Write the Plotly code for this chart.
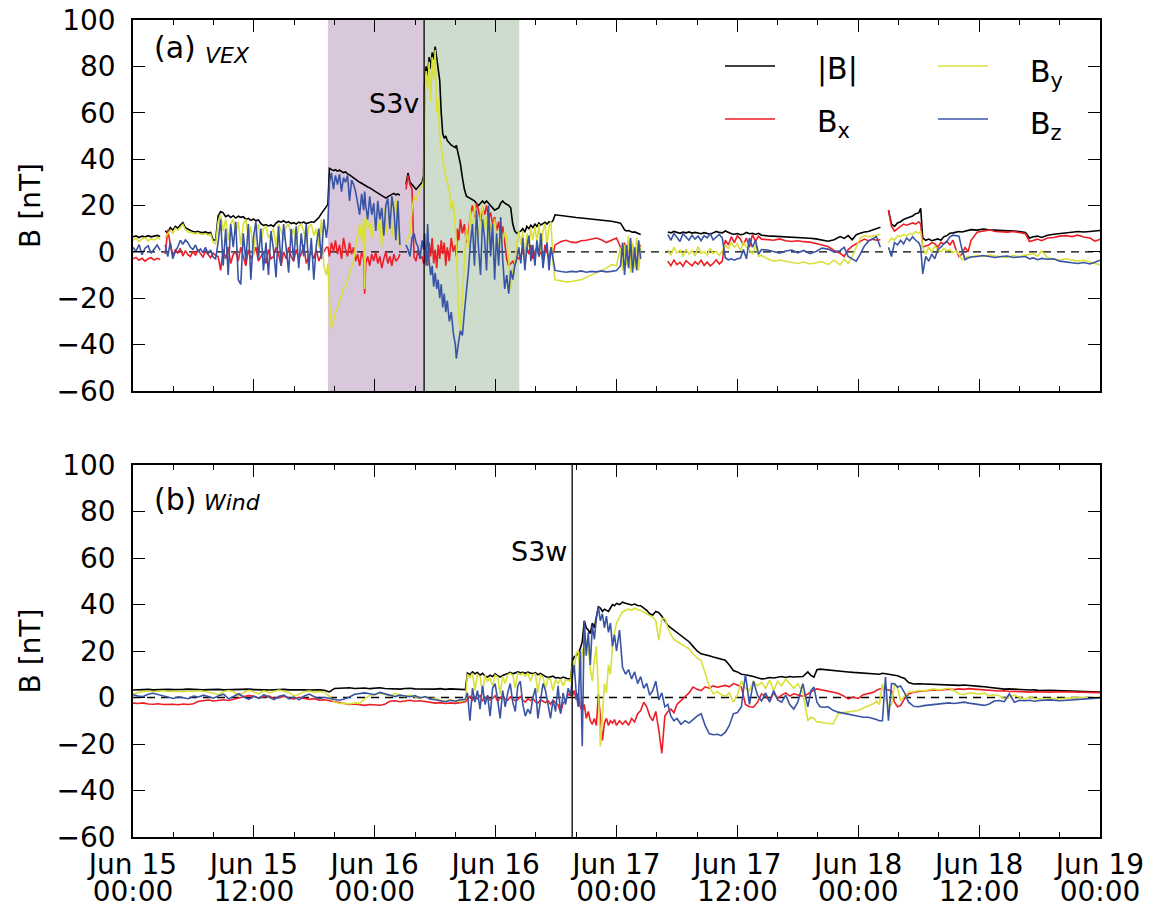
import pandas as pd
import plotly.graph_objects as go

# ---------------- Panel (a): VEX, time in hours after Jun 15 00:00 ----------------
vex_t = [0.0, 0.3, 0.6, 0.9, 1.2, 1.5, 1.8, 2.1, 2.4, 2.7,
         2.95,
         3.2, 3.45, 3.7, 3.95, 4.2, 4.45, 4.7, 4.95, 5.2, 5.45, 5.7, 5.95, 6.2, 6.45, 6.7, 6.95, 7.2, 7.45, 7.7, 7.95, 8.2,
         8.45, 8.7, 8.95, 9.2, 9.45, 9.7, 9.95, 10.2, 10.45, 10.7, 10.95, 11.2, 11.45, 11.7, 11.95, 12.2, 12.45, 12.7, 12.95, 13.2,
         13.45, 13.7, 13.95, 14.2, 14.45, 14.7, 14.95, 15.2, 15.45, 15.7, 15.95, 16.2, 16.45, 16.7, 16.95, 17.2, 17.45, 17.7, 17.95, 18.2,
         18.45, 18.7, 18.95, 19.2,
         19.35, 19.5, 19.7, 19.9, 20.1, 20.3, 20.5, 20.7, 20.9, 21.1, 21.3, 21.5, 21.7, 21.9, 22.1, 22.3, 22.5, 22.7, 22.9, 23.0,
         23.1, 23.3, 23.5, 23.7, 23.9, 24.1, 24.3, 24.5, 24.7, 24.9, 25.1, 25.3, 25.5, 25.7, 25.9, 26.1, 26.3, 26.5,
         26.8,
         27.1, 27.3, 27.5, 27.7, 27.9, 28.1, 28.3, 28.5, 28.7, 28.85,
         28.95, 29.1, 29.25, 29.4, 29.55, 29.7, 29.85, 30.0, 30.15, 30.3, 30.45, 30.6, 30.75, 30.9, 31.05, 31.2, 31.4, 31.6, 31.8, 32.0,
         32.1, 32.2, 32.35, 32.5, 32.7, 32.9, 33.1, 33.3, 33.5, 33.7, 33.9, 34.1, 34.3, 34.5, 34.7, 34.9, 35.1, 35.3, 35.5, 35.7,
         35.9, 36.1, 36.3, 36.5, 36.7, 36.9, 37.1, 37.3, 37.5, 37.7, 37.9, 38.1, 38.3,
         38.5, 38.7, 38.9, 39.1, 39.3, 39.5, 39.7, 39.9, 40.1, 40.3, 40.5, 40.7, 40.9, 41.1, 41.3, 41.5, 41.7, 41.9,
         42.5, 43.0, 43.5, 44.0, 44.5, 45.0, 45.5, 46.0, 46.5, 47.0, 47.5, 48.0,
         48.4, 48.6, 48.8, 49.0, 49.2, 49.4, 49.6, 49.8, 50.0, 50.2, 50.4,
         51.8,
         53.1, 53.4, 53.7, 54.0, 54.3, 54.6, 54.9, 55.2, 55.5, 55.8, 56.1, 56.4, 56.7, 57.0, 57.3, 57.6, 57.9, 58.2, 58.5,
         58.8, 59.1, 59.4, 59.7, 60.0, 60.3, 60.6, 60.9, 61.2, 61.5, 61.8, 62.1, 62.4,
         63.0, 63.6, 64.2, 64.8, 65.4, 66.0, 66.6, 67.2, 67.8, 68.4, 69.0, 69.6,
         70.2, 70.6, 71.0, 71.4, 71.8, 72.2, 72.6, 73.0, 73.4, 73.8, 74.2,
         74.6,
         75.0, 75.3, 75.6, 75.9, 76.2, 76.5, 76.8, 77.1, 77.4, 77.7, 78.0, 78.2, 78.4, 78.7, 79.0, 79.3, 79.6, 79.9, 80.2, 80.5,
         80.8, 81.1, 81.4, 81.7, 82.0, 82.3, 82.6, 82.9, 83.2, 83.8, 84.4, 85.0, 85.6, 86.2, 86.8, 87.4, 88.0, 88.6, 89.0, 89.4,
         89.8, 90.2, 90.8, 91.4, 92.0, 92.6, 93.2, 93.8, 94.4, 95.0, 95.5, 96.0]

vex_B = [6.5, 6.9, 6.2, 6.8, 6.4, 7.0, 6.5, 6.8, 7.1, 6.6,
         None,
         9.0, 8.2, 10.5, 9.4, 11.0, 10.2, 11.6, 12.6, 10.4, 9.6, 9.2, 8.8, 8.6, 8.9, 8.4, 8.3, 8.6, 8.1, 8.4, 5.2, 5.0,
         15.5, 17.4, 16.8, 15.2, 15.8, 14.8, 15.6, 14.6, 15.4, 14.9, 15.2, 14.0, 14.4, 13.6, 14.2, 13.4, 13.8, 12.2, 11.4, 11.8,
         11.2, 11.6, 11.0, 12.4, 13.2, 12.8, 13.4, 12.6, 13.0, 12.2, 12.6, 12.0, 12.8, 12.4, 12.9, 12.2, 12.6, 13.0, 12.7, 13.6,
         14.8, 16.5, 18.2, 19.5,
         20.5, 36, 35.5, 35, 35.4, 34.8, 35.2, 34.6, 34.2, 34.5, 33.6, 33.2, 32.5, 32.0, 31.2, 30.6, 30.0, 29.6, 29.0, 28.8,
         28.6, 28.0, 27.6, 27.0, 26.6, 26.0, 25.4, 24.8, 24.2, 23.6, 23.2, 23.8, 24.4, 24.8, 25.2, 24.6, 25.0, 24.4,
         None,
         29, 34, 30, 29, 28, 27, 28, 29, 30, 33,
         72, 80, 76, 84, 79, 86, 83, 88.5, 84, 80, 74, 60, 51, 49, 50, 48, 47, 46, 45.5, 45,
         46, 44, 42, 38, 32, 27, 24, 23.5, 23, 22.5, 22, 21, 20, 21, 22, 21, 22, 21, 20, 19,
         18, 18.5, 19, 21, 22, 21, 20.5, 20, 19, 12, 9, 8, 8.5,
         9, 10, 8.5, 11, 10, 11.5, 10.5, 12, 11, 12.4, 11.6, 12.2, 12.8, 12, 13, 12.6, 13.5, 16,
         15.6, 15.4, 15, 14.8, 14.6, 14.4, 14.2, 14, 13.6, 13.4, 13.2, 12.8,
         12.4, 11, 9.5, 9, 9.2, 8.8, 8.5, 8.6, 8.2, 7.8, 7.5,
         None,
         8.6, 8.2, 8.8, 8.4, 8.0, 8.5, 8.2, 8.6, 8.1, 8.4, 8.0, 7.8, 8.3, 8.0, 7.6, 8.2, 8.8, 8.4, 8.2,
         9.0, 8.4, 7.8, 7.6, 7.9, 7.4, 7.6, 8.4, 7.8, 8.0, 7.5, 8.0, 7.2,
         6.9, 6.8, 6.6, 6.4, 6.5, 6.3, 6.2, 5.9, 5.6, 5.0, 4.6, 5.2,
         6.6, 5.8, 7.0, 5.2, 7.4, 8.0, 8.6, 8.8, 9.5, 10.2, 10.6,
         None,
         18, 12, 11, 12.5, 13, 14, 14.5, 15, 15.5, 16.5, 16.8, 18.8, 6, 5, 5.5, 4.8, 5.2, 5.6, 5, 6.5,
         7, 8, 8.2, 8.6, 8.8, 8.6, 9, 9.3, 9.6, 9.4, 9.8, 9.5, 9.4, 9.2, 9.0, 9.2, 8.8, 8.4, 6, 6.5,
         6.8, 6.2, 7.2, 7.6, 7.8, 8.2, 8.5, 8.8, 8.6, 8.8, 9, 9.2]

vex_Bx = [-3.0, -2.4, -3.6, -2.8, -4.0, -3.0, -2.5, -3.5, -2.8, -3.3,
          None,
          -1.0, 9.5, 3.5, -1.5, 0.8, -0.5, 1.5, -1.8, 0.5, -1.2, -2.0, 0.2, -1.5, 1.0, -0.8, -2.2, 0.3, -1.0, -2.5, -0.5, -1.5,
          -2, -8, 1, -3, 2, -5, -1, 0, -4, 2, -2, -6, 1, -3, -1, 2, -4, -2, 0, -5,
          1, -3, -2, 2, -1, -6, 0, -3, 2, -2, -4, 1, -3, -1, 3, -5, -2, 0, -3, 1,
          -4, -1, 0, 2,
          2, -2, 4, 0, 5, -1, 3, -3, 6, 1, -2, 4, -1, 2, -4, -1, -6, 0, -3, -18,
          -5, -2, -6, -1, -4, 0, -5, -2, -7, -3, 0, -5, -2, -6, -1, -4, -3, -1,
          None,
          27, 33, 29, 27, -2, -4, 1, -3, -2, -5,
          -4, 2, -6, 4, -2, 6, -5, 1, -7, 3, -3, 5, -1, 4, -6, 2, -4, 6, 0, 3,
          -2, 10, 5, 14, 8, 12, 4, 9, 16, 20, 15, 21, 18, 13, 19, 16, 20, 14, 17, 12,
          15, 9, 13, 6, 11, 3, -3, -6, -5, -4, -6, -2, -3,
          -2, 1, -4, 2, -1, 3, -3, 0, 2, -2, 1, -4, 3, 0, -3, 2, -1, 3,
          4.5, 5, 4.2, 4, 4.8, 5, 5.5, 6, 5.2, 4, 5, 6,
          2, -2, 4, -3, 5, -4, 3, -4, -5, 2, 3,
          None,
          -4, -6, -3.5, -5.5, -4.5, -6.2, -3.8, -5, -6, -4.2, -5.4, -3.6, -5.8, -4.4, -6, -5, -3.4, -5.2, -4,
          5, 3, 6.5, 4, 7, 5.5, 3, 6, 2, 7.5, 4.5, 6.8, 5.5,
          5.2, 5.0, 5.6, 4.8, 4.5, 4.8, 4.4, 4.2, 3.6, 2.8, 2.3, 0.6,
          -0.6, -2, 1, 2.5, 3.5, 4.5, 5.5, 4.8, 5.5, 5.0, 5.2,
          None,
          18, 11, 9, 10, 11, 12, 11.5, 12, 12.5, 12, 13, 12, 2, 2.5, 3, 4, 3.5, 2, 4, 3.5,
          4.5, 3, 5, 1, -2, -1, 2, 0, 5, 8.5, 9, 9.5, 8.8, 8.6, 8.5, 8.8, 8.2, 7.8, 4.5, 5,
          5.5, 4.8, 6, 6.2, 6.8, 7, 6.6, 7.2, 6.4, 6, 4.6, 5.4]

vex_By = [5.0, 5.9, 4.4, 5.6, 6.1, 4.7, 5.7, 5.1, 6.2, 5.3,
          None,
          6.2, 7.5, 9.2, 8.0, 10.2, 9.4, 10.8, 11.8, 9.5, 8.6, 8.4, 8.0, 7.8, 8.2, 7.6, 7.5, 7.9, 7.2, 7.6, 4.2, 3.5,
          13, 16, 9, 14, 5, 12, 14, 8, 13, 3, 12, 14, 6, 11, -2, 9, 12, 4, 10, 11,
          6, 8, 10, 2, 12, 9, 5, 11, 12, 7, 10, 3, 11, 12, 9, 4, 11, 12, 7, 10,
          2, 14, -6, -10,
          -5, -22, -33, -30, -26, -24, -21, -18, -16, -15, -12, -10, -7, -4, 2, 8, 12, 4, 14, -16,
          16, 10, 13, 6, 12, 17, 9, 14, 2, 19, 8, 13, 21, 6, 15, 23, 10, 2,
          None,
          4, 6, 8, 18, 24, 22, 25, 27, 28, 31,
          66, 78, 70, 82, 65, 84, 74, 87, 60, 66, 50, 44, 40, 36, 32, 30, 26, 18, 22, 12,
          4, -10, -28, -34, -20, -5, 10, 2, 18, 8, 20, 14, 6, 16, 20, 10, 15, 4, 12, 8,
          14, 6, 2, 10, 4, 9, 6, -4, -16, -8, -5, 4, 9,
          3, 9, -3, 8, 2, 10, 5, 11, 4, 12, 0, 9, 12, 3, 11, 13, -5, -12,
          -12.5, -13, -12.8, -12.4, -12, -11, -10, -9, -8, -7, -5.5, -6,
          2, -8, 3, -6, 7, -9, 4, -7, 6, -8, 2,
          None,
          1, -1.5, 2, -0.5, 0.8, -2, 1.2, -1, 0.5, -1.8, 2.3, -0.6, 0.2, -1.4, 1.6, -0.8, 0.3, -1.6, 0.5,
          3, 1.5, 4, 2, 3.5, 0.5, 4.2, 2, 1, -1, 3, -2, -1.5,
          -3, -4, -3.5, -4.2, -4.6, -5, -4.4, -5.2, -4.8, -4.2, -5.5, -3.6,
          -5.6, -3.2, -5, -2, 2, 6, 7, 6.5, 6.8, 7.2, 7.5,
          None,
          4, 6, 5, 7, 6.6, 7.5, 6.8, 8, 7.5, 8.8, 8, 9, 2, -1, 2, 0, 2.5, 1, 0, 1.5,
          0.5, 1, -0.5, 0.5, -1, -3.4, -2.5, -1.8, -2.2, -1.5, -2, -1.4, -1.8, -2, -2.4, -1.6, -2, -1.4, -1.2, -0.8,
          -2, 0.5, -2.6, -3.2, -3.6, -3, -3.4, -4, -3.6, -4.5, -5, -5.6]

vex_Bz = [2.0, 0.2, 3.2, -1.2, 1.6, 2.6, -0.6, 1.2, 3.0, 0.6,
          None,
          3.0, -2.0, 4.0, -3.0, 0.2, 2.2, 5.0, 3.2, 5.2, 4.0, 2.0, 1.0, 3.0, 0.2, 1.2, -0.4, 2.0, -1.0, 0.8, -2.2, -3.0,
          4, 14, -6, 10, -10, 12, 2, 13, -12, -14, 8, -4, 12, -12, 6, 13, -3, 10, -8, 4,
          -10, 9, 1, -11, 11, -6, 12, 2, -9, 10, -4, 11, -7, 8, -2, 12, -8, 6, -12, 3,
          10, -3, 14, 6,
          12, 30, 34, 27, 33, 29, 33.5, 26, 32, 30, 33, 22, 31, 29, 26, 21, 16, 25, 18, 26,
          20, 14, 24, 16, 21, 9, 22, 14, 19, 7, 20, 23, 10, 24, 18, 5, 22, 3,
          None,
          3, 1, -2, 6, 8, 4, 2, -3, 5, 1,
          8, -6, 12, -4, -10, -6, -15, -9, -16, -12, -20, -14, -24, -18, -26, -21, -30, -26, -35, -40,
          -46, -42, -38, -34, -36, -26, -18, -8, 4, 12, -6, 18, 2, -10, 14, 6, -8, 20, -2, 12,
          -12, 8, -6, 15, -3, -16, -10, -18, -8, -12, -6, -3, 2,
          -5, 6, -8, 2, 7, -4, 3, -6, 5, -2, 8, -7, 0, 4, -8, 2, -3, -8,
          -8.5, -8.8, -8.4, -8.6, -8.2, -8.8, -8.4, -8.6, -8.2, -8.6, -8.4, -8,
          -6, 4, -10, 3, -7, 6, -9, 2, -8, 5, -3,
          None,
          7.5, 5, 8, 6, 4.5, 7.8, 6.5, 5, 7.2, 5.5, 6.8, 4.8, 7, 6, 7.8, 5.2, 6.4, 7.5, 6,
          -2.5, -3.4, -3, -3.6, -3, -2.8, 1, -3, 6, 2, 5, -1, 1,
          0.8, 0.2, -0.6, 0.4, 0.8, -0.4, 0.6, -0.8, 0.2, 1.6, 1.2, 0,
          0.5, 2, -2, -3, -4, -1, 2.5, 4.5, 5.5, 6.6, 2,
          None,
          2, -2, 4, 3, 5, 3.5, 6, 4.8, 6.5, 5, 4, 2, -9.5, -2, -4, -1, -3, 1, 2, 3.5,
          4.5, 6.5, 7.2, 7, 6.8, 1, -3.4, -2.6, -2.2, -2, -1.6, -2, -2.4, -2, -1.8, -2.4, -2.2, -2, -3, -2.6,
          -3.4, -2.8, -3.2, -3, -4, -4.4, -4.8, -5, -4.6, -5.2, -4.5, -3.6]

# ---------------- Panel (b): Wind ----------------
wind_t = [0.0, 0.5, 1.0, 1.5, 2.0, 2.5, 3.0, 3.5, 4.0, 4.5, 5.0, 5.5, 6.0, 6.5, 7.0, 7.5, 8.0, 8.5, 9.0, 9.5,
          10.0, 10.5, 11.0, 11.5, 12.0, 12.5, 13.0, 13.5, 14.0, 14.5, 15.0, 15.5, 16.0, 16.5, 17.0, 17.5, 18.0, 18.5, 19.0, 19.5,
          20.0, 20.5, 21.0, 21.5, 22.0, 22.5, 23.0, 23.5, 24.0, 24.5, 25.0, 25.5, 26.0, 26.5, 27.0, 27.5, 28.0, 28.5, 29.0, 29.5,
          30.0, 30.5, 31.0, 31.5, 32.0, 32.5, 33.0,
          33.2, 33.45, 33.7, 33.95, 34.2, 34.45, 34.7, 34.95, 35.2, 35.45, 35.7, 35.95, 36.2, 36.45, 36.7, 36.95, 37.2, 37.45, 37.7, 37.95,
          38.2, 38.45, 38.7, 38.95, 39.2, 39.45, 39.7, 39.95, 40.2, 40.45, 40.7, 40.95, 41.2, 41.45, 41.7, 41.95, 42.2, 42.45, 42.7, 42.95,
          43.2, 43.45,
          43.65, 43.8, 44.0, 44.2, 44.4, 44.6, 44.8, 45.0, 45.2, 45.4, 45.6, 45.8, 46.0, 46.2, 46.4, 46.6, 46.8, 47.0, 47.2, 47.4,
          47.6, 47.8, 48.0, 48.3, 48.6, 48.9, 49.2, 49.5, 49.8, 50.1, 50.4, 50.7, 51.0, 51.3, 51.6, 51.9, 52.2, 52.5, 52.8, 53.1,
          53.4, 53.7, 54.0, 54.4, 54.8, 55.2, 55.6, 56.0, 56.4, 56.8, 57.2, 57.6, 58.0, 58.4, 58.8, 59.2, 59.6, 60.0, 60.4, 60.8,
          61.2, 61.6, 62.0, 62.4, 62.8, 63.2, 63.6, 64.0, 64.4, 64.8, 65.2, 65.6, 66.0,
          66.5, 67.0, 67.3, 67.6, 67.9, 68.2, 68.6, 69.0, 69.5, 70.0, 70.5, 71.0, 71.5, 72.0, 72.5, 73.0, 73.5, 73.8, 74.1, 74.4,
          74.7, 75.0, 75.3, 75.6, 75.9, 76.2, 76.6, 77.0, 77.5, 78.0, 78.5, 79.0, 79.5, 80.0, 80.5, 81.0, 81.5, 82.0, 82.5, 83.0,
          83.5, 84.0, 84.5, 85.0, 85.5, 86.0, 86.5, 87.0, 87.5, 88.0, 88.5, 89.0, 89.5, 90.0, 91.0, 92.0, 93.0, 94.0, 95.0, 96.0]

wind_B = [3.2, 3.4, 3.3, 3.5, 3.3, 3.4, 3.6, 3.5, 3.4, 3.3, 3.5, 3.6, 3.4, 3.5, 3.3, 3.4, 3.6, 3.5, 3.3, 3.4,
          3.5, 3.3, 3.4, 3.6, 3.4, 3.5, 3.3, 3.2, 3.4, 3.6, 3.5, 3.3, 3.4, 3.5, 3.3, 3.2, 3.4, 3.3, 3.1, 2.4,
          3.9, 4.1, 4.0, 4.2, 3.9, 4.0, 4.1, 3.8, 4.0, 4.2, 3.9, 3.7, 3.8, 3.6, 3.9, 4.0, 3.7, 3.6, 3.8, 3.7,
          3.6, 3.8, 3.5, 3.7, 3.5, 3.6, 3.4,
          10.5, 9.8, 11, 10.2, 10.8, 9.6, 10.4, 9.2, 8.8, 9.6, 9.0, 10.2, 9.4, 8.8, 9.5, 9.9, 10.4, 10.8, 10.2, 10.5,
          11.0, 10.6, 10.8, 10.4, 10.9, 10.5, 10.2, 10.7, 9.8, 10.4, 9.6, 9.0, 8.6, 8.8, 9.2, 8.4, 8.6, 8.2, 8.8, 8.4,
          8.0, 8.2,
          16, 17.5, 18, 19, 21, 24, 33, 30, 29, 27.5, 32, 30, 35, 39, 38.5, 37, 38, 37.5, 37, 38.5,
          40, 39.5, 40.5, 40, 41, 40.5, 40, 39.8, 40.2, 39.6, 39.5, 38.5, 37.5, 36, 35.5, 37, 36.5, 35, 33, 31,
          30, 29, 28, 26.5, 25, 24, 22, 20, 18.8, 18.5, 18, 17.4, 17, 16.5, 16, 14, 11.6, 11, 10, 9.8,
          9.5, 9, 8.5, 8, 8.2, 8.6, 8.4, 8.8, 9, 8.6, 9, 8.8, 8.9,
          9, 11, 9.5, 8.8, 12, 12.2, 12, 11.8, 11.5, 11.2, 11.2, 11, 10.8, 10.6, 10.5, 10.2, 10.3, 10.2, 10, 10.4,
          10.2, 10.3, 9.8, 9.6, 9.4, 8.8, 8.2, 6.4, 5.8, 5.9, 5.8, 5.6, 5.7, 5.5, 5.6, 5.4, 5.3, 5.2, 5.4, 5.1,
          5.0, 4.8, 4.6, 4.3, 4.0, 3.8, 3.6, 3.7, 3.5, 3.6, 3.4, 3.2, 3.3, 3.0, 3.1, 3.0, 2.8, 2.7, 2.5, 2.3]

wind_Bx = [-2.4, -2.6, -2.3, -2.8, -2.9, -2.7, -3.0, -2.8, -2.9, -3.1, -2.8, -3.0, -2.7, -1.6, -1.3, -1.1, -1.5, -1.2, -1.0, -1.3,
           -0.6, -0.2, 0.4, 0.8, 0.5, -0.2, 0.3, 0.6, -0.4, 0.2, 0.5, -0.3, -0.6, 0.1, -0.2, -0.8, -0.5, -1.2, -1.0, -1.4,
           -1.8, -2.2, -2.6, -3.0, -2.8, -3.2, -3.4, -3.0, -3.1, -3.3, -2.9, -1.6, -1.4, -1.8, -1.5, -1.2, -1.6, -1.4, -1.7, -2.2,
           -2.4, -2.2, -2.6, -2.3, -2.5, -2.2, -1.8,
           -0.8, 0.5, -1.2, 0.2, -0.6, 1.0, -1.4, -0.3, 0.6, -1.0, -0.4, 0.8, -1.6, -0.2, 0.4, -0.8, -1.2, 0.3, -0.6, -1.4,
           -0.9, 0.4, -1.1, -2.0, -0.5, -1.3, -0.4, -1.8, -2.4, -1.0, -1.6, -2.2, -1.4, -2.8, -1.2, -2.0, -3.2, -6.5, -2.4, -1.2,
           1.5, 0.8,
           1, 3, -1, 2, -4, -5.6, -3, -9, -6, -10, -11.5, -9, -12, 1.6, -8, -18.5, -11, -9, -12, -10,
           -11, -9.5, -12, -10, -11.5, -10, -12, -9, -10.5, -7, -5.6, -2, -4, -8, -10, -6, -14, -24, -8, -6,
           -5, -6.5, -3, -1.3, 0, 2, 4.5, 3.5, 3, 4.6, 4, 5, 4.4, 4.8, 5.2, 4.6, 6, 5.4, 4.5, -3,
           -4, -4.2, -2, 1.6, 0.5, -1.3, 2, -0.5, 1, 2, 0.6, 1.6, 1.2,
           0.5, 1.5, 2.5, 3.2, 3.7, 3.4, 3.0, 2.5, 2.2, 1.8, 0.8, -0.6, 0.2, -0.4, 1.2, 1.6, 2.2, 3.0, 3.7, 4.0,
           3.6, 3.2, 2.8, -2, -4, -3.5, -0.5, 1.5, 2.3, 2.6, 2.8, 3.0, 3.2, 3.0, 3.3, 3.6, 3.4, 3.7, 3.5, 3.8,
           3.6, 3.4, 3.2, 3.0, 3.1, 2.8, 2.9, 2.6, 2.7, 2.5, 2.6, 2.3, 2.5, 2.4, 2.3, 2.5, 2.4, 2.3, 2.2, 2.1]

wind_By = [1.4, 2.2, 2.6, 2.8, 2.5, 2.7, 2.9, 2.6, 2.8, 2.7, 2.5, 2.8, 2.6, 2.9, 2.7, 2.4, 1.8, 1.2, 2.6, 3.0,
           2.5, 0.8, 2.2, 3.1, 2.4, 1.6, 2.9, 2.0, 2.6, 3.2, 2.7, 2.2, 0.6, 1.4, 2.5, 2.8, 2.2, 2.6, 2.4, 0.5,
           -2.0, -2.6, -2.4, -2.8, -2.3, -2.5, -0.6, 0.8, 1.5, 2.0, 1.4, 0.6, 1.8, 1.2, 0.4, 1.0, 0.2, -0.4, 0.3, -0.6,
           -0.2, -1.2, -1.6, -1.0, -1.4, -1.8, -0.8,
           10, 8.5, 10.5, 3, 9.8, 9, 2.5, 9.5, 7, 8.4, 5, 9.6, 8.8, 1.5, 9, 6, 9.8, 10.4, 9.6, 4,
           10.5, 9.8, 10.4, 9.2, 10.6, 7, 9.8, 10.2, 2, 9.8, 8.8, 4, 8.2, 7.6, 3, 7.8, 6, 8, 5, 7.6,
           7.4, 6.8,
           16, 12, 19, 20, 8, 21, 18, 25, 22, 12, 7, 16, 22, 3, -21, -8, 6, 2, 14, 10,
           22, 28, 32, 34.6, 36.8, 37.5, 38, 37.5, 38.5, 37.8, 37.5, 36.8, 36, 35, 34.5, 33, 24.6, 34, 34, 30,
           27, 25, 24, 23, 22, 21, 18.8, 17, 16, 10, 5, 1.6, 2.5, 1.2, 0.5, 2, -2, 1, 7, 4,
           3, 7, 5, 6.5, 4, 7.5, 3, 7, 5, 8, 6, 4, 6,
           2, -10, -8.5, -9, -10.5, -10.6, -11, -11.2, -11.4, -7, -6.5, -6.2, -5.8, -5.6, -4.5, -3.5, -2.7, -1.5, -3, 5.9,
           0, -4, -3, 6, 4, -1.3, 0.5, 2.3, 2.5, 3, 2.8, 3.4, 3.7, 3.2, 3.5, 4, 3, 1.6, 1.2, 2,
           1.8, 1.4, 2, 0.6, 1.2, 0.8, -0.5, 0.4, 1.0, 0.1, -0.8, 0.3, -0.4, -0.6, -0.4, -0.6, -0.2, 0.1, -0.1, 0.2]

wind_Bz = [1.2, 0.6, 0.4, 1.4, 1.8, 1.2, 0.8, 0.2, -0.4, 0.3, -0.2, -0.5, 0.6, 0.2, 1.0, 0.4, -0.3, 0.8, 1.4, -0.6,
           0.4, 1.6, 0.2, -0.8, 0.6, -0.4, 1.2, 0.3, -0.9, 0.5, 1.0, -0.6, 0.2, -1.0, 0.7, 1.5, 0.3, -0.5, 0.1, -0.4,
           -0.8, -1.2, -0.6, 0.2, 1.4, 1.8, 2.0, 1.6, 1.2, 2.2, 1.5, 0.8, 0.4, 1.0, 0.6, 0.3, 0.8, -0.2, 0.4, -0.6,
           -1.0, -1.4, -1.8, -1.2, -1.6, -1.0, -0.8,
           2, -10, 4, -2, 3, -5, 5, -3, 1, -8, 4, 6, -1, -9, 3, -4, 2, 6, -2, -6,
           5, 7, -3, -8, -5, -7, 0, 4, -9, -2, 6, 3, -4, -9, -1, -6, 5, -7, 2, -3,
           4, 1,
           10, 14, 2, -4, 20, -21, 33, 18, 28, 14, 31, 25, 34, 39, 33, 36, 30, 35, 28, 32,
           22, 27, 20, 29, 13, 10, 12, 8, 11, 6, 9, 4, 6, 1, 3, 7, -1, 2, -4, -3,
           -8, -10, -9, -11.5, -10, -11, -9.5, -8, -7, -12, -15.5, -16, -15.8, -16.4, -15, -12, -7, -6.5, -4, 10,
           -3, 7, 1, -1.5, 2, -2, 3, -1, -2, 1, -3, -5, -2,
           5.9, -4, 3, 4.5, -2, -4, -4.2, -4, -5.5, -6.3, -6.8, -7.2, -7.6, -8, -8.5, -8.5, -9, -9.5, -10, -10,
           8.8, -10, 6, 5.9, 4.5, 5, 2, -2, -3.8, -4, -3.5, -3.2, -3, -2.7, -2.5, -2.3, -2.6, -2.2, -2, -2.4,
           -2.8, -3.2, -3.4, -2.8, -1.5, -1.3, -1.8, 1.6, -2, -1.2, -1.4, -1.2, -1.6, -1.3, -1.0, -1.4, -1.2, -0.8, -0.5, -0.2]

# event markers / intervals (hours after Jun 15 00:00)
sheath_start_h = 19.35
s3v_h = 28.9
mc_end_h = 38.35
s3w_h = 43.6

tick_hours = [0, 12, 24, 36, 48, 60, 72, 84, 96]
tick_day_text = ["Jun 15", "Jun 15", "Jun 16", "Jun 16", "Jun 17", "Jun 17", "Jun 18", "Jun 18", "Jun 19"]
tick_time_text = ["00:00", "12:00", "00:00", "12:00", "00:00", "12:00", "00:00", "12:00", "00:00"]
y_ticks = [-60, -40, -20, 0, 20, 40, 60, 80, 100]

names = ["|B|", "B<sub>x</sub>", "B<sub>y</sub>", "B<sub>z</sub>"]
colors = ["#000000", "#ec1f26", "#d9e03a", "#3a54a5"]

for arr in (vex_B, vex_Bx, vex_By, vex_Bz):
    assert len(arr) == len(vex_t), (len(arr), len(vex_t))
for arr in (wind_B, wind_Bx, wind_By, wind_Bz):
    assert len(arr) == len(wind_t), (len(arr), len(wind_t))

base = pd.Timestamp("2011-06-15 00:00")


def to_time(hours):
    return [base + pd.Timedelta(hours=h) for h in hours]


def at(h):
    return base + pd.Timedelta(hours=h)


vx = to_time(vex_t)
wx = to_time(wind_t)

fig = go.Figure()
for name, col, ys in zip(names, colors, [vex_B, vex_Bx, vex_By, vex_Bz]):
    fig.add_trace(go.Scatter(x=vx, y=ys, mode="lines", name=name, line=dict(color=col, width=1.6),
                             xaxis="x", yaxis="y", showlegend=False))
for name, col, ys in zip(names, colors, [wind_B, wind_Bx, wind_By, wind_Bz]):
    fig.add_trace(go.Scatter(x=wx, y=ys, mode="lines", name=name, line=dict(color=col, width=1.6),
                             xaxis="x2", yaxis="y2", showlegend=False))
# carrier for the second row of date labels (no visible marks)
fig.add_trace(go.Scatter(x=[], y=[], mode="lines", xaxis="x3", yaxis="y2", showlegend=False, hoverinfo="skip"))

FONT = "DejaVu Sans"
fs = 28
tick_times = to_time(tick_hours)
xr = [base, at(96)]

common_x = dict(type="date", range=xr, tickmode="array", tickvals=tick_times, ticktext=tick_day_text,
                ticks="inside", ticklen=12, tickwidth=1.3, tickcolor="black",
                showline=True, linecolor="black", linewidth=1.5, mirror="ticks",
                showgrid=False, zeroline=False, automargin=False, ticklabeloverflow="allow",
                minor=dict(ticks="inside", ticklen=5, tickwidth=1.2, tickcolor="black",
                           dtick=4 * 3600 * 1000, tick0=base, showgrid=False),
                tickfont=dict(family=FONT, size=fs, color="black"))
common_y = dict(range=[-60, 100], tickmode="array", tickvals=y_ticks,
                ticks="inside", ticklen=12, tickwidth=1.3, tickcolor="black",
                showline=True, linecolor="black", linewidth=1.5, mirror="ticks",
                showgrid=False, zeroline=False, ticklabelstandoff=10, automargin=False,
                ticklabeloverflow="allow",
                tickfont=dict(family=FONT, size=fs, color="black"),
                title=dict(text="B [nT]", font=dict(family=FONT, size=fs, color="black"), standoff=8))

# page body has an 8px default margin; margins compensate so the plot box lands at x 133..1100, y 20..837
fig.update_layout(
    width=1156, height=911, autosize=False,
    margin=dict(l=125, r=64, t=12, b=82),
    paper_bgcolor="white", plot_bgcolor="white",
    font=dict(family=FONT, size=fs, color="black"),
    xaxis=dict(common_x, domain=[0, 1], anchor="y", showticklabels=False, matches="x2"),
    yaxis=dict(common_y, domain=[0.5459, 1], anchor="x"),
    xaxis2=dict(common_x, domain=[0, 1], anchor="y2", showticklabels=True, ticklabelstandoff=2),
    xaxis3=dict(type="date", range=xr, overlaying="x2", anchor="y2", side="bottom",
                tickmode="array", tickvals=tick_times, ticktext=tick_time_text,
                ticks="", showline=False, showgrid=False, zeroline=False, automargin=False,
                ticklabeloverflow="allow", ticklabelstandoff=35,
                tickfont=dict(family=FONT, size=fs, color="black")),
    yaxis2=dict(common_y, domain=[0, 0.4553], anchor="x2"),
)

# shaded intervals in panel (a)
fig.add_shape(type="rect", x0=at(sheath_start_h), x1=at(s3v_h), xref="x", yref="y domain", y0=0, y1=1,
              fillcolor="#d9c8dc", line_width=0, layer="below")
fig.add_shape(type="rect", x0=at(s3v_h), x1=at(mc_end_h), xref="x", yref="y domain", y0=0, y1=1,
              fillcolor="#cddccd", line_width=0, layer="below")

# zero lines
for xa, ya in (("x", "y"), ("x2", "y2")):
    fig.add_shape(type="line", xref=xa + " domain", yref=ya, x0=0, x1=1, y0=0, y1=0,
                  line=dict(color="black", width=1.4, dash="8px,6px"), layer="below")

# shock lines
fig.add_shape(type="line", xref="x", yref="y domain", x0=at(s3v_h), x1=at(s3v_h),
              y0=0, y1=1, line=dict(color="black", width=1.3), layer="above")
fig.add_shape(type="line", xref="x2", yref="y2 domain", x0=at(s3w_h), x1=at(s3w_h),
              y0=0, y1=1, line=dict(color="black", width=1.3), layer="above")

fig.add_annotation(x=at(s3v_h), y=64, xref="x", yref="y", text="S3v", showarrow=False,
                   xanchor="right", yanchor="middle", xshift=-3, font=dict(family=FONT, size=27))
fig.add_annotation(x=at(s3w_h), y=63, xref="x2", yref="y2", text="S3w", showarrow=False,
                   xanchor="right", yanchor="middle", xshift=-3, font=dict(family=FONT, size=27))

# panel labels
fig.add_annotation(x=0.0196, y=0.927, xref="x domain", yref="y domain", text="(a)", showarrow=False,
                   xanchor="left", yanchor="middle", font=dict(family=FONT, size=30))
fig.add_annotation(x=0.0724, y=0.905, xref="x domain", yref="y domain", text="<i>VEX</i>", showarrow=False,
                   xanchor="left", yanchor="middle", font=dict(family=FONT, size=22))
fig.add_annotation(x=0.0196, y=0.906, xref="x2 domain", yref="y2 domain", text="(b)", showarrow=False,
                   xanchor="left", yanchor="middle", font=dict(family=FONT, size=30))
fig.add_annotation(x=0.0714, y=0.90, xref="x2 domain", yref="y2 domain", text="<i>Wind</i>", showarrow=False,
                   xanchor="left", yanchor="middle", font=dict(family=FONT, size=22))

# legend (two columns) inside panel (a)
leg_rows = [(names[0], colors[0], 0.6122, 0.6639, 0.7053, 0.9437, 0.940),
            (names[1], colors[1], 0.6122, 0.6639, 0.7053, 0.8788, 0.873),
            (names[2], colors[2], 0.8325, 0.8842, 0.9255, 0.9437, 0.935),
            (names[3], colors[3], 0.8325, 0.8842, 0.9255, 0.8788, 0.871)]
for name, col, lx0, lx1, tx, ly, ty in leg_rows:
    fig.add_shape(type="line", xref="paper", yref="paper", x0=lx0, x1=lx1, y0=ly, y1=ly,
                  line=dict(color=col, width=1.6))
    fig.add_annotation(x=tx, y=ty, xref="paper", yref="paper", text=name, showarrow=False,
                       xanchor="left", yanchor="middle", font=dict(family=FONT, size=30))

fig.write_html("out.html")
